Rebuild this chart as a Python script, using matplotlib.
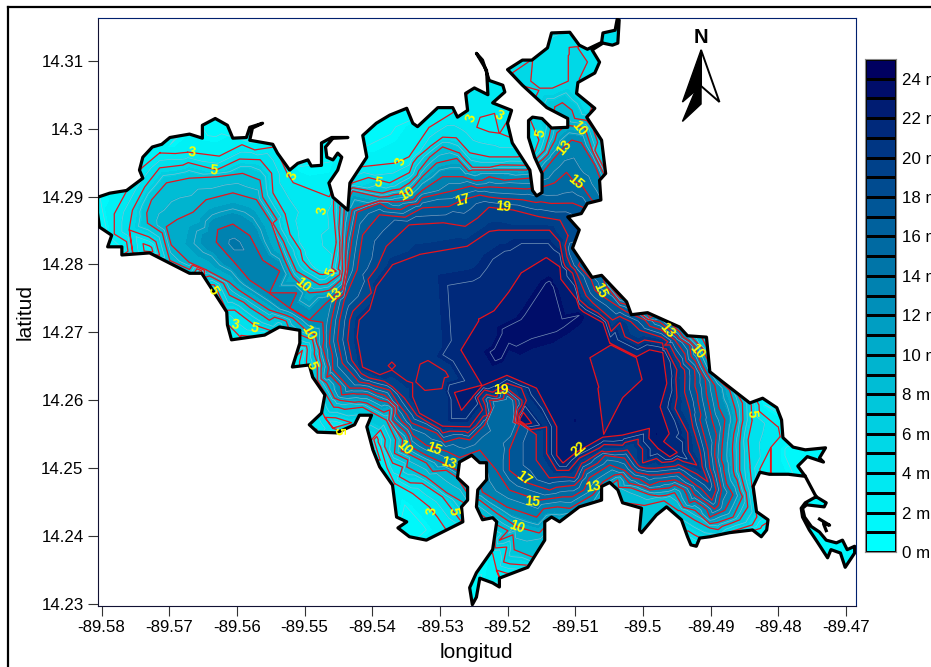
import numpy as np
import matplotlib
matplotlib.use('Agg')
import matplotlib.pyplot as plt
import matplotlib.tri as mtri
from matplotlib.colors import LinearSegmentedColormap
from matplotlib.lines import Line2D
from matplotlib.path import Path
from matplotlib.patches import Polygon

plt.rcParams['font.family'] = ['Liberation Sans', 'DejaVu Sans']

# lake shore (lon, lat)
shore = [(-89.5806,14.2899),(-89.5788,14.2905),(-89.5763,14.2909),(-89.5747,14.2921),(-89.5739,14.2927),(-89.5744,14.2939),
(-89.5739,14.2958),(-89.5725,14.2973),(-89.5711,14.2977),(-89.5699,14.2987),(-89.5670,14.2992),(-89.5651,14.2986),
(-89.5651,14.3005),(-89.5632,14.3015),(-89.5614,14.3005),(-89.5606,14.2986),(-89.5586,14.2987),(-89.5581,14.3002),
(-89.5562,14.3008),(-89.5577,14.3001),(-89.5581,14.2983),(-89.5547,14.2977),(-89.5540,14.2964),(-89.5522,14.2939),
(-89.5510,14.2949),(-89.5495,14.2954),(-89.5490,14.2945),(-89.5475,14.2946),(-89.5475,14.2979),(-89.5460,14.2987),
(-89.5436,14.2987),(-89.5458,14.2986),(-89.5469,14.2973),(-89.5467,14.2958),(-89.5458,14.2954),(-89.5451,14.2964),
(-89.5445,14.2958),(-89.5451,14.2939),(-89.5464,14.2920),(-89.5458,14.2899),(-89.5436,14.2880),(-89.5433,14.2920),
(-89.5408,14.2958),(-89.5414,14.2990),(-89.5394,14.3008),(-89.5374,14.3020),(-89.5349,14.3030),(-89.5340,14.3008),
(-89.5333,14.3003),(-89.5303,14.3031),(-89.5281,14.3031),(-89.5274,14.3017),(-89.5259,14.3027),(-89.5262,14.3052),
(-89.5249,14.3060),(-89.5229,14.3050),(-89.5231,14.3086),(-89.5246,14.3111),(-89.5237,14.3101),(-89.5227,14.3071),
(-89.5207,14.3064),(-89.5204,14.3054),(-89.5222,14.3038),(-89.5194,14.3027),(-89.5200,14.3008),(-89.5193,14.2979),
(-89.5167,14.2939),(-89.5163,14.2909),(-89.5157,14.2901),(-89.5149,14.2906),(-89.5149,14.2934),(-89.5160,14.2958),
(-89.5169,14.2987),(-89.5169,14.3012),(-89.5163,14.3017),(-89.5149,14.3015),(-89.5135,14.3001),(-89.5111,14.3002),
(-89.5111,14.3015),(-89.5142,14.3031),(-89.5178,14.3064),(-89.5200,14.3087),(-89.5178,14.3101),(-89.5164,14.3101),
(-89.5141,14.3119),(-89.5135,14.3141),(-89.5108,14.3142),(-89.5094,14.3123),(-89.5082,14.3117),(-89.5061,14.3127),
(-89.5059,14.3141),(-89.5041,14.3145),(-89.5038,14.3161),(-89.5035,14.3160),(-89.5037,14.3126),(-89.5045,14.3123),
(-89.5059,14.3126),(-89.5075,14.3116),(-89.5064,14.3098),(-89.5071,14.3082),(-89.5096,14.3068),(-89.5098,14.3052),
(-89.5071,14.3030),(-89.5083,14.3017),(-89.5061,14.2983),(-89.5055,14.2934),(-89.5064,14.2924),(-89.5062,14.2895),
(-89.5082,14.2890),(-89.5091,14.2875),(-89.5111,14.2870),(-89.5094,14.2851),(-89.5104,14.2824),(-89.5075,14.2781),
(-89.5061,14.2784),(-89.5024,14.2745),(-89.5017,14.2726),(-89.4993,14.2729),(-89.4946,14.2708),(-89.4934,14.2695),
(-89.4906,14.2693),(-89.4901,14.2642),(-89.4882,14.2627),(-89.4842,14.2596),(-89.4823,14.2603),(-89.4802,14.2589),
(-89.4795,14.2571),(-89.4793,14.2545),(-89.4778,14.2531),(-89.4760,14.2527),(-89.4730,14.2530),(-89.4739,14.2515),
(-89.4733,14.2509),(-89.4757,14.2517),(-89.4771,14.2503),(-89.4760,14.2488),(-89.4785,14.2491),(-89.4813,14.2491),
(-89.4827,14.2494),(-89.4837,14.2473),(-89.4832,14.2436),(-89.4815,14.2424),(-89.4817,14.2409),(-89.4825,14.2399),
(-89.4838,14.2409),(-89.4872,14.2405),(-89.4901,14.2399),(-89.4916,14.2397),(-89.4921,14.2385),(-89.4929,14.2387),
(-89.4934,14.2399),(-89.4943,14.2424),(-89.4965,14.2443),(-89.4980,14.2431),(-89.5002,14.2405),(-89.5005,14.2409),
(-89.5002,14.2441),(-89.5030,14.2449),(-89.5037,14.2468),(-89.5049,14.2479),(-89.5061,14.2473),(-89.5061,14.2453),
(-89.5094,14.2443),(-89.5123,14.2421),(-89.5135,14.2428),(-89.5145,14.2421),(-89.5145,14.2394),(-89.5157,14.2375),
(-89.5170,14.2354),(-89.5212,14.2338),(-89.5212,14.2325),(-89.5222,14.2331),(-89.5241,14.2338),(-89.5246,14.2310),
(-89.5252,14.2299),(-89.5256,14.2324),(-89.5246,14.2346),(-89.5222,14.2380),(-89.5216,14.2421),(-89.5222,14.2427),
(-89.5237,14.2424),(-89.5246,14.2443),(-89.5244,14.2468),(-89.5231,14.2483),(-89.5231,14.2508),(-89.5241,14.2508),
(-89.5253,14.2519),(-89.5271,14.2509),(-89.5274,14.2486),(-89.5259,14.2472),(-89.5259,14.2453),(-89.5268,14.2443),
(-89.5266,14.2421),(-89.5290,14.2409),(-89.5320,14.2394),(-89.5345,14.2399),(-89.5362,14.2412),(-89.5349,14.2421),
(-89.5364,14.2428),(-89.5370,14.2475),(-89.5389,14.2502),(-89.5399,14.2527),(-89.5408,14.2561),(-89.5401,14.2578),
(-89.5419,14.2578),(-89.5426,14.2564),(-89.5453,14.2552),(-89.5481,14.2553),(-89.5493,14.2564),(-89.5475,14.2581),
(-89.5470,14.2608),(-89.5488,14.2634),(-89.5493,14.2652),(-89.5518,14.2649),(-89.5507,14.2684),(-89.5507,14.2703),
(-89.5537,14.2708),(-89.5559,14.2696),(-89.5608,14.2689),(-89.5614,14.2711),(-89.5615,14.2730),(-89.5648,14.2781),
(-89.5652,14.2787),(-89.5670,14.2787),(-89.5729,14.2817),(-89.5770,14.2814),(-89.5770,14.2826),(-89.5791,14.2826),
(-89.5785,14.2843),(-89.5803,14.2855),(-89.5806,14.2876)]

arm = [(-89.4744,14.2458),(-89.4729,14.2449),(-89.4732,14.2443),(-89.4758,14.2446),(-89.4764,14.2441),(-89.4761,14.2428),
(-89.4751,14.2414),(-89.4739,14.2406),(-89.4729,14.2394),(-89.4714,14.2390),(-89.4705,14.2394),(-89.4698,14.2380),
(-89.4687,14.2385),(-89.4687,14.2375),(-89.4701,14.2354),(-89.4708,14.2375),(-89.4722,14.2380),(-89.4727,14.2368),
(-89.4742,14.2391),(-89.4754,14.2409),(-89.4764,14.2428),(-89.4766,14.2441),(-89.4760,14.2449)]
arm_link = [(-89.4760,14.2488),(-89.4744,14.2458)]
islet = [(-89.4739,14.2425),(-89.4724,14.2416),(-89.4733,14.2418),(-89.4729,14.2408)]

# isobaths: depth -> list of (lon, lat) runs
iso_3 = [
[(-89.5781,14.2845),(-89.5781,14.2874),(-89.5762,14.2909),(-89.5739,14.2943),(-89.5714,14.2964),(-89.5673,14.2965),(-89.5626,14.2959),(-89.5592,14.2976),(-89.5544,14.2973),(-89.5526,14.2934),(-89.5517,14.2920),(-89.5489,14.2880),(-89.5497,14.2855),(-89.5493,14.2821),(-89.5478,14.2796),(-89.5466,14.2796),(-89.5475,14.2874),(-89.5463,14.2899)],
[(-89.5419,14.2943),(-89.5364,14.2949),(-89.5345,14.2958),(-89.5315,14.3002),(-89.5281,14.3023),(-89.5260,14.3012),(-89.5246,14.3002),(-89.5227,14.2995),(-89.5212,14.2993),(-89.5194,14.2986)],
[(-89.5241,14.3017),(-89.5219,14.3023),(-89.5197,14.3017)],
[(-89.4801,14.2561),(-89.4798,14.2546),(-89.4811,14.2531),(-89.4811,14.2493)],
[(-89.5367,14.2478),(-89.5340,14.2463),(-89.5315,14.2443),(-89.5303,14.2428),(-89.5290,14.2409)],
[(-89.5222,14.2375),(-89.5216,14.2350),(-89.5212,14.2340)]]
iso_5 = [
[(-89.5754,14.2817),(-89.5759,14.2851),(-89.5754,14.2880),(-89.5736,14.2914),(-89.5714,14.2942),(-89.5680,14.2946),(-89.5630,14.2939),(-89.5596,14.2955),(-89.5566,14.2954),(-89.5549,14.2934),(-89.5547,14.2905),(-89.5529,14.2874),(-89.5522,14.2845),(-89.5503,14.2806),(-89.5473,14.2785),(-89.5453,14.2790),(-89.5453,14.2833),(-89.5457,14.2880)],
[(-89.5429,14.2920),(-89.5374,14.2920),(-89.5345,14.2935),(-89.5315,14.2973),(-89.5296,14.2987),(-89.5276,14.2986),(-89.5256,14.2964),(-89.5227,14.2958),(-89.5185,14.2958)],
[(-89.5153,14.3057),(-89.5133,14.3057),(-89.5108,14.3068),(-89.5096,14.3071)],
[(-89.5160,14.2964),(-89.5153,14.2983)],
[(-89.5089,14.3047),(-89.5079,14.3027),(-89.5083,14.3012)],
[(-89.5192,14.3082),(-89.5178,14.3064),(-89.5167,14.3068),(-89.5164,14.3101)],
[(-89.5108,14.3119),(-89.5098,14.3120),(-89.5083,14.3098),(-89.5094,14.3089),(-89.5108,14.3108)],
[(-89.5633,14.2770),(-89.5603,14.2733),(-89.5574,14.2711)],
[(-89.5507,14.2681),(-89.5497,14.2659),(-89.5485,14.2608),(-89.5470,14.2575),(-89.5458,14.2559),(-89.5430,14.2567),(-89.5401,14.2542),(-89.5370,14.2508),(-89.5355,14.2502),(-89.5326,14.2478),(-89.5296,14.2458),(-89.5270,14.2424)],
[(-89.4840,14.2593),(-89.4839,14.2571),(-89.4845,14.2542),(-89.4842,14.2502),(-89.4839,14.2473)],
[(-89.4832,14.2428),(-89.4872,14.2406)],
[(-89.5219,14.2399),(-89.5201,14.2384),(-89.5167,14.2357)]]
iso_8 = [
[(-89.5448,14.2884),(-89.5448,14.2833),(-89.5448,14.2785),(-89.5478,14.2770),(-89.5512,14.2790),(-89.5526,14.2821),(-89.5547,14.2861),(-89.5562,14.2899),(-89.5566,14.2924),(-89.5592,14.2934),(-89.5630,14.2929),(-89.5670,14.2927),(-89.5704,14.2920),(-89.5726,14.2895),(-89.5733,14.2876),(-89.5732,14.2861),(-89.5699,14.2806),(-89.5648,14.2781),(-89.5611,14.2755),(-89.5581,14.2737),(-89.5552,14.2718),(-89.5522,14.2703)],
[(-89.5429,14.2913),(-89.5385,14.2905),(-89.5345,14.2920),(-89.5315,14.2958),(-89.5296,14.2973),(-89.5271,14.2964),(-89.5252,14.2943),(-89.5227,14.2943),(-89.5175,14.2946)],
[(-89.5157,14.2956),(-89.5145,14.2968),(-89.5138,14.2990)],
[(-89.5130,14.3032),(-89.5119,14.3038),(-89.5105,14.3027),(-89.5101,14.3015),(-89.5083,14.3012),(-89.5071,14.2968),(-89.5056,14.2939)],
[(-89.5488,14.2689),(-89.5481,14.2655),(-89.5481,14.2630),(-89.5463,14.2600),(-89.5414,14.2590),(-89.5379,14.2571),(-89.5367,14.2522),(-89.5349,14.2502),(-89.5320,14.2487),(-89.5290,14.2464),(-89.5266,14.2450)],
[(-89.5212,14.2394),(-89.5190,14.2380),(-89.5160,14.2368),(-89.5150,14.2387)],
[(-89.4904,14.2674),(-89.4879,14.2630),(-89.4853,14.2596),(-89.4857,14.2537),(-89.4857,14.2497),(-89.4845,14.2443),(-89.4857,14.2424),(-89.4901,14.2412),(-89.4946,14.2438),(-89.4968,14.2453),(-89.4998,14.2446),(-89.5020,14.2456),(-89.5046,14.2468)]]
iso_10 = [
[(-89.5429,14.2908),(-89.5389,14.2899),(-89.5349,14.2905),(-89.5326,14.2929),(-89.5305,14.2949),(-89.5275,14.2956),(-89.5252,14.2939),(-89.5227,14.2939),(-89.5172,14.2939)],
[(-89.5441,14.2884),(-89.5444,14.2836),(-89.5444,14.2792),(-89.5463,14.2762),(-89.5493,14.2758),(-89.5517,14.2781),(-89.5537,14.2826),(-89.5549,14.2861),(-89.5571,14.2895),(-89.5606,14.2905),(-89.5645,14.2895),(-89.5665,14.2876),(-89.5689,14.2865),(-89.5704,14.2855),(-89.5697,14.2829),(-89.5670,14.2803),(-89.5645,14.2792),(-89.5611,14.2774),(-89.5581,14.2752),(-89.5552,14.2733),(-89.5517,14.2721),(-89.5497,14.2703),(-89.5484,14.2696),(-89.5478,14.2674),(-89.5467,14.2625),(-89.5448,14.2600),(-89.5408,14.2596),(-89.5374,14.2586),(-89.5355,14.2542),(-89.5342,14.2519),(-89.5320,14.2508),(-89.5290,14.2497),(-89.5275,14.2487)],
[(-89.5155,14.2949),(-89.5138,14.2968),(-89.5127,14.2993),(-89.5113,14.3005),(-89.5086,14.3001),(-89.5076,14.2971),(-89.5059,14.2936)],
[(-89.4931,14.2696),(-89.4901,14.2652),(-89.4872,14.2615),(-89.4861,14.2571),(-89.4867,14.2512),(-89.4853,14.2458),(-89.4867,14.2428),(-89.4890,14.2420),(-89.4923,14.2438),(-89.4953,14.2464),(-89.4990,14.2461),(-89.5017,14.2471),(-89.5037,14.2483)],
[(-89.5241,14.2453),(-89.5216,14.2434),(-89.5186,14.2414),(-89.5153,14.2405)]]
iso_13 = [
[(-89.5167,14.2927),(-89.5227,14.2929),(-89.5266,14.2929),(-89.5296,14.2929),(-89.5326,14.2909),(-89.5364,14.2892),(-89.5423,14.2883),(-89.5438,14.2836),(-89.5439,14.2792),(-89.5456,14.2754),(-89.5467,14.2744),(-89.5512,14.2758),(-89.5537,14.2790),(-89.5562,14.2806),(-89.5581,14.2842),(-89.5606,14.2859),(-89.5628,14.2851),(-89.5630,14.2833),(-89.5606,14.2806),(-89.5581,14.2777),(-89.5552,14.2758),(-89.5522,14.2736),(-89.5493,14.2718),(-89.5473,14.2715),(-89.5473,14.2678),(-89.5467,14.2634),(-89.5445,14.2608),(-89.5389,14.2600),(-89.5370,14.2571),(-89.5342,14.2531),(-89.5320,14.2519),(-89.5296,14.2508),(-89.5275,14.2497)],
[(-89.5149,14.2934),(-89.5133,14.2954),(-89.5118,14.2971),(-89.5105,14.2983),(-89.5091,14.2979),(-89.5071,14.2946),(-89.5062,14.2924)],
[(-89.4990,14.2721),(-89.4946,14.2701),(-89.4921,14.2671),(-89.4894,14.2622),(-89.4879,14.2571),(-89.4884,14.2512),(-89.4867,14.2461),(-89.4879,14.2438),(-89.4901,14.2428),(-89.4931,14.2449),(-89.4961,14.2471),(-89.4990,14.2468),(-89.5020,14.2478),(-89.5042,14.2490),(-89.5059,14.2480),(-89.5074,14.2461),(-89.5108,14.2441),(-89.5157,14.2428),(-89.5201,14.2443),(-89.5237,14.2465)]]
iso_15 = [
[(-89.5163,14.2912),(-89.5227,14.2914),(-89.5278,14.2909),(-89.5326,14.2898),(-89.5389,14.2890),(-89.5422,14.2877),(-89.5430,14.2836),(-89.5436,14.2792),(-89.5453,14.2748),(-89.5460,14.2718),(-89.5463,14.2684),(-89.5458,14.2645),(-89.5433,14.2618),(-89.5379,14.2605),(-89.5364,14.2581),(-89.5340,14.2549),(-89.5320,14.2534),(-89.5290,14.2525),(-89.5271,14.2516),(-89.5241,14.2527),(-89.5216,14.2546),(-89.5227,14.2571),(-89.5216,14.2596),(-89.5197,14.2600),(-89.5194,14.2567),(-89.5212,14.2530),(-89.5216,14.2497),(-89.5197,14.2468),(-89.5153,14.2453),(-89.5118,14.2458),(-89.5079,14.2486),(-89.5049,14.2505),(-89.5027,14.2497),(-89.4990,14.2475),(-89.4953,14.2483),(-89.4924,14.2461),(-89.4894,14.2440),(-89.4884,14.2468),(-89.4890,14.2497),(-89.4898,14.2571),(-89.4908,14.2630),(-89.4931,14.2681),(-89.4975,14.2715),(-89.5020,14.2740),(-89.5056,14.2770)],
[(-89.5148,14.2914),(-89.5130,14.2920),(-89.5113,14.2935),(-89.5104,14.2924),(-89.5089,14.2914),(-89.5076,14.2895)]]
iso_17 = [
[(-89.5089,14.2884),(-89.5104,14.2890),(-89.5178,14.2895),(-89.5241,14.2902),(-89.5266,14.2895),(-89.5326,14.2883),(-89.5389,14.2873),(-89.5414,14.2843),(-89.5422,14.2792),(-89.5441,14.2748),(-89.5448,14.2718),(-89.5451,14.2689),(-89.5444,14.2655),(-89.5419,14.2627),(-89.5374,14.2615),(-89.5360,14.2593),(-89.5342,14.2567),(-89.5305,14.2552),(-89.5271,14.2545),(-89.5256,14.2542),(-89.5234,14.2564),(-89.5227,14.2600),(-89.5204,14.2612),(-89.5187,14.2593),(-89.5182,14.2564),(-89.5197,14.2527),(-89.5197,14.2497),(-89.5175,14.2480),(-89.5138,14.2468),(-89.5101,14.2475),(-89.5086,14.2497),(-89.5056,14.2519),(-89.5027,14.2515),(-89.4990,14.2490),(-89.4946,14.2494),(-89.4921,14.2475),(-89.4898,14.2453),(-89.4892,14.2468),(-89.4904,14.2527),(-89.4916,14.2571),(-89.4924,14.2645),(-89.4953,14.2689),(-89.4997,14.2718),(-89.5034,14.2736),(-89.5071,14.2762),(-89.5096,14.2799),(-89.5105,14.2821)]]
iso_19 = [
[(-89.5227,14.2884),(-89.5296,14.2861),(-89.5345,14.2858),(-89.5379,14.2826),(-89.5401,14.2758),(-89.5433,14.2718),(-89.5436,14.2689),(-89.5430,14.2659),(-89.5404,14.2633),(-89.5370,14.2620),(-89.5352,14.2603),(-89.5334,14.2578),(-89.5296,14.2552),(-89.5259,14.2552),(-89.5231,14.2578),(-89.5216,14.2605),(-89.5201,14.2618),(-89.5179,14.2593),(-89.5157,14.2549),(-89.5157,14.2512),(-89.5138,14.2486),(-89.5101,14.2486),(-89.5086,14.2509),(-89.5056,14.2524),(-89.5023,14.2527),(-89.4983,14.2500),(-89.4931,14.2497),(-89.4904,14.2480),(-89.4916,14.2527),(-89.4931,14.2586),(-89.4938,14.2637),(-89.4968,14.2681),(-89.5005,14.2703),(-89.5045,14.2718),(-89.5074,14.2743),(-89.5098,14.2787),(-89.5111,14.2842),(-89.5123,14.2865),(-89.5153,14.2870),(-89.5192,14.2880)]]
iso_20 = [
[(-89.5419,14.2718),(-89.5422,14.2693),(-89.5414,14.2649),(-89.5389,14.2638),(-89.5349,14.2629),(-89.5340,14.2605),(-89.5330,14.2581),(-89.5296,14.2562),(-89.5256,14.2561),(-89.5237,14.2586),(-89.5222,14.2612),(-89.5201,14.2625),(-89.5172,14.2600),(-89.5142,14.2561),(-89.5142,14.2522),(-89.5127,14.2497),(-89.5094,14.2515),(-89.5064,14.2530),(-89.5030,14.2534),(-89.5000,14.2508),(-89.4921,14.2505),(-89.4934,14.2552),(-89.4950,14.2605),(-89.4950,14.2645),(-89.4971,14.2684),(-89.5034,14.2714),(-89.5094,14.2748),(-89.5104,14.2787),(-89.5123,14.2833),(-89.5138,14.2850),(-89.5212,14.2850),(-89.5227,14.2848),(-89.5260,14.2826),(-89.5330,14.2814),(-89.5370,14.2799),(-89.5394,14.2767),(-89.5404,14.2733)],
[(-89.5340,14.2626),(-89.5333,14.2655),(-89.5320,14.2661),(-89.5296,14.2637),(-89.5297,14.2615),(-89.5325,14.2612)],
[(-89.5377,14.2651),(-89.5371,14.2657),(-89.5365,14.2651),(-89.5371,14.2645)]]
iso_22 = [
[(-89.5142,14.2809),(-89.5123,14.2796),(-89.5098,14.2748),(-89.5059,14.2714),(-89.5049,14.2684),(-89.5082,14.2664),(-89.5068,14.2618),(-89.5030,14.2602),(-89.5000,14.2630),(-89.5009,14.2664),(-89.4990,14.2674),(-89.4971,14.2670),(-89.4965,14.2625),(-89.4975,14.2590),(-89.4990,14.2559),(-89.5030,14.2549),(-89.5059,14.2546),(-89.5098,14.2524),(-89.5118,14.2508),(-89.5127,14.2519),(-89.5127,14.2561),(-89.5157,14.2618),(-89.5201,14.2637),(-89.5237,14.2622),(-89.5252,14.2605),(-89.5268,14.2586),(-89.5278,14.2611),(-89.5268,14.2674),(-89.5241,14.2693),(-89.5241,14.2718),(-89.5219,14.2730),(-89.5197,14.2758),(-89.5178,14.2787)],
[(-89.4977,14.2529),(-89.4970,14.2539),(-89.4950,14.2523),(-89.4960,14.2517)]]
isobaths = {3: iso_3, 5: iso_5, 8: iso_8, 10: iso_10, 13: iso_13, 15: iso_15, 17: iso_17, 19: iso_19, 20.5: iso_20, 22: iso_22}

# spot depths off the isobaths
spot_lon = [-89.5096,-89.5175,-89.5603,-89.5296,-89.5371,-89.4965,-89.5212,-89.5197,-89.5167,-89.5138,-89.5123,-89.5094,-89.5020,-89.5040,
-89.5800,-89.5791,-89.5633,-89.5699,-89.5581,-89.5507,-89.5463,-89.5382,-89.5411,-89.5315,-89.5249,-89.5218,-89.5238,-89.5227,-89.5197,
-89.5145,-89.5123,-89.5064,-89.5049,-89.5049,-89.5046,-89.5046,-89.5071,-89.5079,-89.5034,-89.4975,-89.4931,-89.4887,-89.4864,
-89.4820,-89.4783,-89.4739,-89.4820,-89.4820,-89.4747,-89.4717,-89.4694,-89.4925,-89.4990,-89.5027,-89.5079,-89.4887,-89.5138,
-89.5204,-89.5249,-89.5227,-89.5224,-89.5244,-89.5330,-89.5352,-89.5396,-89.5382,-89.5283,-89.5456,-89.5481,-89.5503,-89.5515,
-89.5655,-89.5618,-89.5596,-89.5537,-89.5729,-89.5766,-89.5180,-89.5100,-89.4980,
-89.5818,-89.5810,-89.5655,-89.5433,-89.5241,-89.5027,-89.5020,-89.5034,-89.4916,-89.4724,-89.4672,-89.4709,-89.5256,-89.5360,-89.5507,-89.5529,-89.5670,-89.5803]
spot_lat = [14.3104,14.3084,14.2829,14.2637,14.2651,14.2528,14.2670,14.2700,14.2715,14.2770,14.2715,14.2725,14.2640,14.2610,
14.2886,14.2843,14.2998,14.2976,14.2983,14.2944,14.2968,14.3003,14.2973,14.3025,14.3050,14.3059,14.3094,14.3005,14.3000,
14.3102,14.3130,14.3101,14.3133,14.2997,14.2939,14.2895,14.2873,14.2829,14.2762,14.2748,14.2718,14.2689,14.2637,
14.2593,14.2527,14.2524,14.2497,14.2409,14.2446,14.2384,14.2372,14.2388,14.2415,14.2450,14.2438,14.2394,14.2421,
14.2335,14.2321,14.2365,14.2421,14.2497,14.2409,14.2446,14.2542,14.2497,14.2415,14.2564,14.2558,14.2674,14.2655,
14.2790,14.2718,14.2696,14.2712,14.2821,14.2821,14.2570,14.2570,14.2550,
14.2910,14.2836,14.3030,14.3042,14.3128,14.3170,14.3071,14.2924,14.2748,14.2542,14.2365,14.2339,14.2288,14.2382,14.2534,14.2681,14.2762,14.2799]
spot_depth = [5.5,5.5,14.5,20.2,20.2,22.6,23.6,23.6,23.6,23.4,23.4,23.2,21.5,21.5,
1.5,1.5,1,1.5,1,1.5,1,1,1.5,1.5,3.5,3.5,2,2,2,
4.5,4.5,4.5,4.5,4,5,13,17.5,17,10,10,8,5,5,
1.5,1,1,2,2,1,1,1,3,7,8,11,5,10,
1.5,1,2,8,13,1,1.5,2,2,3,3,3,3,1.5,
3,3,3,6,2,1.5,23,23,23,
1,1,1,1,2,4.5,4.5,8,5,1,1,1,1,1,2,2,2,1]

red_depths = [3, 5, 8, 10, 13, 15, 17, 19, 20.5, 22]
grey_depths = [1.5, 4, 6.5, 9, 11.5, 14, 16, 18, 21.2, 23.2]

# colour bar bands, 0 m to 25 m
band_depths = np.arange(0, 26)
bar_ticks = np.arange(0, 25, 2)
cmap = LinearSegmentedColormap.from_list('lake', ['#00ffff', '#00e6f0', '#00c8dc', '#00a8c8', '#0078aa', '#005596', '#003080', '#000060'])

x_ticks = [-89.58, -89.57, -89.56, -89.55, -89.54, -89.53, -89.52, -89.51, -89.5, -89.49, -89.48, -89.47]
x_labels = ['-89.58', '-89.57', '-89.56', '-89.55', '-89.54', '-89.53', '-89.52', '-89.51', '-89.5', '-89.49', '-89.48', '-89.47']
y_ticks = [14.23, 14.24, 14.25, 14.26, 14.27, 14.28, 14.29, 14.3, 14.31]
y_labels = ['14.23', '14.24', '14.25', '14.26', '14.27', '14.28', '14.29', '14.3', '14.31']

# contour labels as printed on the map
label_text = ['3','5','3','3','5','10','13','3','5','10','17','19','3','3','5','10','13','15','15','13','10','5','22','13','19','17','15','10','5','3','13','15','10','5','5','10','5','5','3']
label_lon = [-89.5667,-89.5634,-89.5518,-89.5473,-89.5460,-89.5503,-89.5456,-89.5357,-89.5391,-89.5349,-89.5266,-89.5206,-89.5253,-89.5213,-89.5151,-89.5094,-89.5116,-89.5100,-89.5064,-89.4964,-89.4919,-89.4839,-89.5094,-89.5074,-89.5210,-89.5176,-89.5163,-89.5187,-89.5281,-89.5311,-89.5287,-89.5309,-89.5352,-89.5450,-89.5490,-89.5494,-89.5636,-89.5574,-89.5603]
label_lat = [14.2965,14.2939,14.2930,14.2880,14.2789,14.2770,14.2755,14.2952,14.2921,14.2905,14.2895,14.2885,14.3016,14.3020,14.2994,14.3001,14.2972,14.2921,14.2762,14.2703,14.2672,14.2581,14.2528,14.2472,14.2615,14.2486,14.2450,14.2413,14.2437,14.2437,14.2508,14.2528,14.2530,14.2555,14.2652,14.2699,14.2762,14.2706,14.2711]
label_rot = [-5,-5,65,80,70,-40,40,75,-10,30,15,-5,70,-30,75,-50,50,-40,-65,-50,-50,-85,40,10,0,-35,-5,-20,-80,85,-15,-20,-45,-90,-70,-60,-60,-15,-10]

w, h = 931, 667
fig = plt.figure(figsize=(w / 100, h / 100), dpi=100)
ax = fig.add_axes([97.5 / w, (h - 606) / h, 758.5 / w, 588 / h])

pts = {}
for d, runs in isobaths.items():
    for run in runs:
        for p in run:
            pts[p] = d
for lo, la, d in zip(spot_lon, spot_lat, spot_depth):
    pts[(lo, la)] = d
lon = np.array([p[0] for p in pts])
lat = np.array([p[1] for p in pts])
depth = np.array(list(pts.values()))
tri = mtri.Triangulation(lon, lat)

shore_path = Path.make_compound_path(Path(shore + shore[:1], closed=True), Path(arm + arm[:1], closed=True))
clip = ax.transData

eps = 0.03
band_colors = [cmap(i / 24) for i in range(25)]
filled = ax.tricontourf(tri, depth, levels=band_depths - eps, colors=band_colors)
grey = ax.tricontour(tri, depth, levels=grey_depths, colors='#9fbdd0', linewidths=0.5, alpha=0.75)
red = ax.tricontour(tri, depth, levels=np.array(red_depths) - eps, colors='#e8141c', linewidths=0.9)
for cs in (filled, grey, red):
    cs.set_clip_path(shore_path, clip)

for line in (shore + shore[:1], arm + arm[:1], arm_link, islet):
    xs, ys = zip(*line)
    ax.plot(xs, ys, color='black', lw=2.3, solid_joinstyle='round', zorder=4)

for t, lo, la, r in zip(label_text, label_lon, label_lat, label_rot):
    ax.text(lo, la, t, color='#ffff00', fontsize=10, fontweight='bold', rotation=r, ha='center', va='center', zorder=5)

ax.set_xlim(-89.5806, -89.4685)
ax.set_ylim(14.2297, 14.3163)
ax.set_xticks(x_ticks)
ax.set_xticklabels(x_labels)
ax.set_yticks(y_ticks)
ax.set_yticklabels(y_labels)
ax.tick_params(length=7, width=0.8, color='#333333', labelsize=12.2, pad=3)
ax.set_xlabel('longitud', fontsize=15, labelpad=6)
ax.set_ylabel('latitud', fontsize=15, labelpad=5)
for s in ('top', 'right'):
    ax.spines[s].set_color('#00206e')
for s in ('left', 'bottom'):
    ax.spines[s].set_color('#111133')

# north arrow
ax.add_patch(Polygon([(0.7957, 0.9), (0.7957, 0.8537), (0.7712, 0.8241), (0.7957, 0.9)], transform=ax.transAxes, fc='black', ec='black', lw=1, zorder=6, closed=True))
ax.add_patch(Polygon([(0.7957, 0.9457), (0.7712, 0.8571), (0.7957, 0.8844)], transform=ax.transAxes, fc='black', ec='black', lw=1, zorder=6))
ax.add_patch(Polygon([(0.7957, 0.9457), (0.8200, 0.8571), (0.7957, 0.8844)], transform=ax.transAxes, fc='white', ec='black', lw=1.4, zorder=6))
ax.text(0.7957, 0.967, 'N', transform=ax.transAxes, fontsize=14.5, fontweight='bold', ha='center', va='center')

# colour bar
cax = fig.add_axes([864.5 / w, (h - 552) / h, 31.5 / w, 493 / h])
cax.pcolormesh([0, 1], band_depths, np.arange(25).reshape(-1, 1), cmap=matplotlib.colors.ListedColormap(band_colors), edgecolors='black', linewidth=0.8)
cax.set_xticks([])
cax.yaxis.tick_right()
cax.set_yticks(bar_ticks)
cax.set_yticklabels([f'{d} m' for d in bar_ticks])
cax.tick_params(axis='y', length=0, labelsize=12.2, pad=4)
for s in cax.spines.values():
    s.set_color('#888888')

# outer frame of the sheet
fig.add_artist(Line2D([8 / w, 8 / w], [0, (h - 7) / h], color='black', lw=1.6))
fig.add_artist(Line2D([8 / w, 1], [(h - 7) / h, (h - 7) / h], color='black', lw=1.6))

fig.savefig('out.png', dpi=100)
